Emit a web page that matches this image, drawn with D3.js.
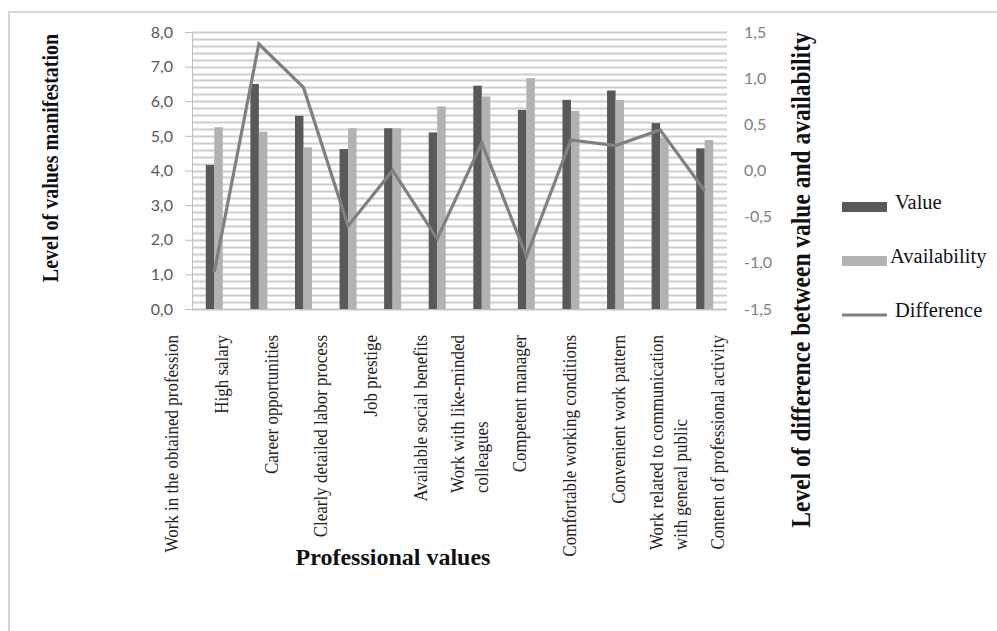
<!DOCTYPE html>
<html>
<head>
<meta charset="utf-8">
<script src="https://cdn.jsdelivr.net/npm/d3@7"></script>
<style>
  body { margin: 0; background: #fff; }
  svg { display: block; }
</style>
</head>
<body>
<div id="chart"></div>
<script>
// professional values (x categories), "\n" marks a line break in the label
var categories = [
  "Work in the obtained profession",
  "High salary",
  "Career opportunities",
  "Clearly detailed labor process",
  "Job prestige",
  "Available social benefits",
  "Work with like-minded\ncolleagues",
  "Competent manager",
  "Comfortable working conditions",
  "Convenient work pattern",
  "Work related to communication\nwith general public",
  "Content of professional activity"
];

var valueData = [4.16, 6.50, 5.58, 4.62, 5.22, 5.10, 6.45, 5.75, 6.04, 6.31, 5.37, 4.64];
var availabilityData = [5.25, 5.12, 4.67, 5.22, 5.22, 5.85, 6.14, 6.67, 5.72, 6.04, 4.95, 4.88];
var differenceData = [-1.10, 1.37, 0.90, -0.60, 0.00, -0.74, 0.30, -0.93, 0.33, 0.27, 0.44, -0.22];

var leftTicks = [0, 1, 2, 3, 4, 5, 6, 7, 8];
var rightTicks = [-1.5, -1.0, -0.5, 0.0, 0.5, 1.0, 1.5];
var legendItems = ["Value", "Availability", "Difference"];

var W = 997, H = 631;
var plot = { left: 192, right: 727, top: 32, bottom: 309 };
var serif = "'Liberation Serif', 'Times New Roman', serif";
var stretch = 1.15; // the source picture is a little wider than tall

var svg = d3.select("#chart").append("svg")
  .attr("width", W)
  .attr("height", H);

// outer frame (only top and left edges are visible in the picture)
svg.append("path")
  .attr("d", "M9,631 L9,12 L997,12")
  .attr("fill", "none")
  .attr("stroke", "#d6d6d6")
  .attr("stroke-width", 2);

var x = d3.scaleBand()
  .domain(categories)
  .range([plot.left, plot.right]);

var xInner = d3.scaleBand()
  .domain(["value", "availability"])
  .range([0, 17]);

var y = d3.scaleLinear().domain([0, 8]).range([plot.bottom, plot.top]);
var y2 = d3.scaleLinear().domain([-1.5, 1.5]).range([plot.bottom, plot.top]);

var fmt = function (d) { return d3.format(".1f")(d).replace(".", ",").replace("−", "-"); };

// minor gridlines every 0.2
var grid = d3.range(0, 8.0001, 0.2);
svg.append("g").selectAll("line")
  .data(grid)
  .enter()
  .append("line")
  .attr("x1", plot.left)
  .attr("x2", plot.right)
  .attr("y1", function (d) { return Math.round(y(d)) + 0.5; })
  .attr("y2", function (d) { return Math.round(y(d)) + 0.5; })
  .attr("stroke", "#cdcdcd")
  .attr("stroke-width", 1.8);

// left axis
var yAxis = svg.append("g")
  .attr("transform", "translate(" + plot.left + ",0)")
  .call(d3.axisLeft(y).tickValues(leftTicks).tickFormat(fmt).tickSize(7).tickPadding(12));
yAxis.select(".domain").attr("stroke", "#bfbfbf");
yAxis.selectAll(".tick line").attr("stroke", "#bfbfbf");
yAxis.selectAll("text")
  .attr("fill", "#595959")
  .style("font-family", "Lato, sans-serif")
  .style("font-size", "16px");

// bottom line
svg.append("line")
  .attr("x1", plot.left)
  .attr("x2", plot.right)
  .attr("y1", plot.bottom + 0.5)
  .attr("y2", plot.bottom + 0.5)
  .attr("stroke", "#bfbfbf");

// right axis (labels only)
var y2Axis = svg.append("g")
  .attr("transform", "translate(" + (plot.right + 17) + ",0)")
  .call(d3.axisRight(y2).tickValues(rightTicks).tickFormat(fmt).tickSize(0).tickPadding(0));
y2Axis.select(".domain").remove();
y2Axis.selectAll("text")
  .attr("fill", "#7f7f7f")
  .style("font-family", "Lato, sans-serif")
  .style("font-size", "16px");

// bars
var groups = svg.append("g").selectAll("g")
  .data(categories)
  .enter()
  .append("g")
  .attr("transform", function (d) {
    return "translate(" + (x(d) + x.bandwidth() / 2 - 8.5) + ",0)";
  });

groups.append("rect")
  .attr("x", xInner("value"))
  .attr("width", xInner.bandwidth())
  .attr("y", function (d, i) { return y(valueData[i]); })
  .attr("height", function (d, i) { return y(0) - y(valueData[i]); })
  .attr("fill", "#595959");

groups.append("rect")
  .attr("x", xInner("availability"))
  .attr("width", xInner.bandwidth())
  .attr("y", function (d, i) { return y(availabilityData[i]); })
  .attr("height", function (d, i) { return y(0) - y(availabilityData[i]); })
  .attr("fill", "#b2b2b2");

// difference line
var line = d3.line()
  .x(function (d, i) { return x(categories[i]) + x.bandwidth() / 2; })
  .y(function (d) { return y2(d); });

svg.append("path")
  .datum(differenceData)
  .attr("d", line)
  .attr("fill", "none")
  .attr("stroke", "#808080")
  .attr("stroke-width", 3.2)
  .attr("stroke-linejoin", "miter");

// category labels (they sit on their own spacing, as in the source)
var xl = d3.scalePoint().domain(categories).range([172, 718]);
var labelTop = 335;
var lineGap = 24;

categories.forEach(function (c) {
  var lines = c.split("\n");
  var cx = xl(c) - (lines.length - 1) * lineGap / 2;
  var t = svg.append("text")
    .attr("transform", "translate(" + cx + "," + labelTop + ") rotate(-90) scale(1," + stretch + ")")
    .style("font-family", serif)
    .style("font-size", "17px")
    .attr("fill", "#222");
  var first = t.append("tspan")
    .attr("x", 0)
    .attr("dy", "0.33em")
    .attr("text-anchor", "end")
    .text(lines[0]);
  var len = first.node().getComputedTextLength();
  for (var k = 1; k < lines.length; k++) {
    t.append("tspan")
      .attr("x", -len)
      .attr("dy", lineGap / stretch)
      .attr("text-anchor", "start")
      .text(lines[k]);
  }
});

// axis titles
svg.append("text")
  .attr("transform", "translate(50,158) rotate(-90) scale(1," + stretch + ")")
  .attr("text-anchor", "middle")
  .attr("dy", "0.35em")
  .style("font-family", serif)
  .style("font-weight", "bold")
  .style("font-size", "20px")
  .attr("fill", "#111")
  .text("Level of values manifestation");

svg.append("text")
  .attr("transform", "translate(801,280) rotate(-90) scale(1," + stretch + ")")
  .attr("text-anchor", "middle")
  .attr("dy", "0.35em")
  .style("font-family", serif)
  .style("font-weight", "bold")
  .style("font-size", "23.5px")
  .attr("fill", "#111")
  .text("Level of difference between value and availability");

svg.append("text")
  .attr("x", 393)
  .attr("y", 565)
  .attr("text-anchor", "middle")
  .style("font-family", serif)
  .style("font-weight", "bold")
  .style("font-size", "24px")
  .attr("fill", "#111")
  .text("Professional values");

// legend
var legendY = d3.scalePoint().domain(legendItems).range([207, 315]);
var legend = svg.append("g").selectAll("g")
  .data(legendItems)
  .enter()
  .append("g")
  .attr("transform", function (d) { return "translate(842," + legendY(d) + ")"; });

legend.each(function (d) {
  var g = d3.select(this);
  if (d === "Difference") {
    g.append("line")
      .attr("x1", 0).attr("x2", 45)
      .attr("stroke", "#808080")
      .attr("stroke-width", 3);
  } else {
    g.append("rect")
      .attr("x", 0).attr("y", -5)
      .attr("width", 45).attr("height", 10)
      .attr("fill", d === "Value" ? "#595959" : "#b2b2b2");
  }
  g.append("text")
    .attr("x", d === "Availability" ? 48 : 53)
    .attr("y", -5)
    .attr("dy", "0.35em")
    .style("font-family", serif)
    .style("font-size", "20.5px")
    .attr("fill", "#111")
    .text(d);
});
</script>
</body>
</html>
